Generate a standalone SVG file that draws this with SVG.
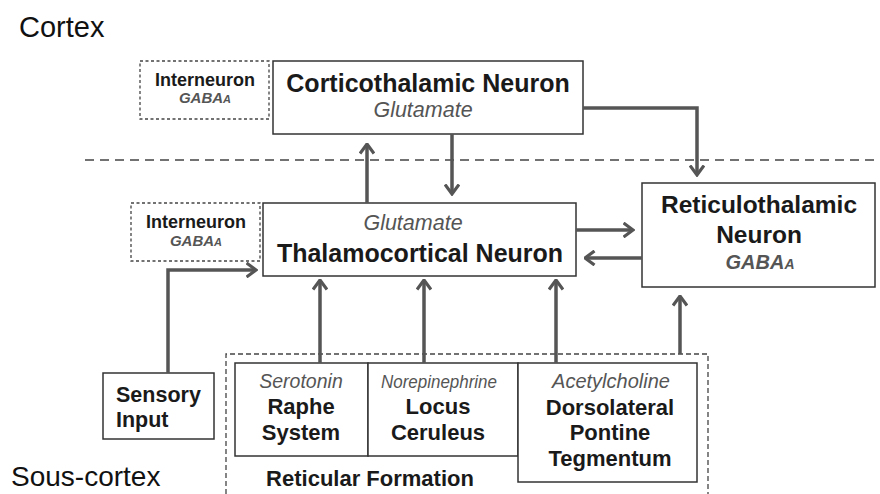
<svg xmlns="http://www.w3.org/2000/svg" width="880" height="494" viewBox="0 0 880 494">
<style>
text{font-family:"Liberation Sans",Arial,sans-serif;fill:#1a1a1a;text-anchor:middle}
.b{font-weight:bold}
.box{fill:#fff;stroke:#333;stroke-width:1.5}
.dbox{fill:none;stroke:#444;stroke-width:1.3;stroke-dasharray:3 2.5}
.it{font-style:italic;fill:#555}
.bi{font-style:italic;font-weight:bold;fill:#555}
.conn path{fill:none;stroke:#555;stroke-width:3.5;marker-end:url(#ah)}
.lbl{font-size:29px;text-anchor:start;fill:#111}
</style>
<defs>
<marker id="ah" markerUnits="userSpaceOnUse" viewBox="0 0 12 16" refX="10.5" refY="8" markerWidth="12" markerHeight="16" orient="auto">
<path d="M1,1 L10.5,8 L1,15" fill="none" stroke="#555" stroke-width="3.2" stroke-linejoin="miter"/>
</marker>
</defs>
<rect width="880" height="494" fill="#fff"/>
<text class="lbl" x="19" y="37">Cortex</text>
<text class="lbl" x="11" y="486" style="font-size:28px">Sous-cortex</text>
<path d="M85,160 H880" stroke="#444" stroke-width="1.5" stroke-dasharray="9 6" fill="none"/>
<path d="M226,494 V354 H708 V494" fill="none" stroke="#444" stroke-width="1.3" stroke-dasharray="5 3"/>
<g id="interneuron-cortex">
<rect class="dbox" x="140" y="61" width="129" height="58"/>
<text class="b" x="205" y="86" font-size="18">Interneuron</text>
<text class="bi" x="205" y="103" font-size="15">GABA<tspan font-size="11">A</tspan></text>
</g>
<g id="corticothalamic">
<rect class="box" x="273" y="61" width="310" height="73"/>
<text class="b" x="428" y="92" font-size="25">Corticothalamic Neuron</text>
<text class="it" x="423" y="117" font-size="21.5">Glutamate</text>
</g>
<g id="interneuron-thalamus">
<rect class="dbox" x="131" y="203" width="129" height="58"/>
<text class="b" x="196" y="228" font-size="18">Interneuron</text>
<text class="bi" x="196" y="246" font-size="15">GABA<tspan font-size="11">A</tspan></text>
</g>
<g id="thalamocortical">
<rect class="box" x="263" y="203" width="313" height="73"/>
<text class="it" x="413" y="230" font-size="21.5">Glutamate</text>
<text class="b" x="420" y="262" font-size="25">Thalamocortical Neuron</text>
</g>
<g id="reticulothalamic">
<rect class="box" x="642" y="183" width="233" height="104"/>
<text class="b" x="759" y="213" font-size="24.5">Reticulothalamic</text>
<text class="b" x="759" y="243" font-size="24.5">Neuron</text>
<text class="bi" x="760" y="269" font-size="20">GABA<tspan font-size="14">A</tspan></text>
</g>
<g id="sensory-input">
<rect class="box" x="103" y="373" width="111" height="66"/>
<text class="b" x="116" y="402" font-size="21.5" style="text-anchor:start">Sensory</text>
<text class="b" x="116" y="427" font-size="21.5" style="text-anchor:start">Input</text>
</g>
<g id="raphe">
<rect class="box" x="235" y="363" width="133" height="93"/>
<text class="it" x="301" y="388" font-size="19.5">Serotonin</text>
<text class="b" x="301" y="414" font-size="22">Raphe</text>
<text class="b" x="301" y="440" font-size="22">System</text>
</g>
<g id="locus">
<rect class="box" x="368" y="363" width="150" height="93"/>
<text class="it" x="439" y="388" font-size="18" textLength="116" lengthAdjust="spacingAndGlyphs">Norepinephrine</text>
<text class="b" x="438" y="414" font-size="22">Locus</text>
<text class="b" x="438" y="440" font-size="22">Ceruleus</text>
</g>
<g id="dorsolateral">
<rect class="box" x="518" y="363" width="179" height="119"/>
<text class="it" x="611" y="388" font-size="20">Acetylcholine</text>
<text class="b" x="610" y="415" font-size="22">Dorsolateral</text>
<text class="b" x="610" y="440" font-size="22">Pontine</text>
<text class="b" x="610" y="466" font-size="22">Tegmentum</text>
</g>
<g id="reticular-formation">
<text class="b" x="370" y="486" font-size="22">Reticular Formation</text>
</g>
<g id="connectors" class="conn">
<path d="M367,203 V144"/>
<path d="M452,134 V194"/>
<path d="M583,108 H697 V175"/>
<path d="M168,373 V270 H256"/>
<path d="M576,230 H633"/>
<path d="M642,258 H585"/>
<path d="M320,363 V280"/>
<path d="M424,363 V280"/>
<path d="M556,363 V280"/>
<path d="M680,354 V296"/>
</g>
</svg>
